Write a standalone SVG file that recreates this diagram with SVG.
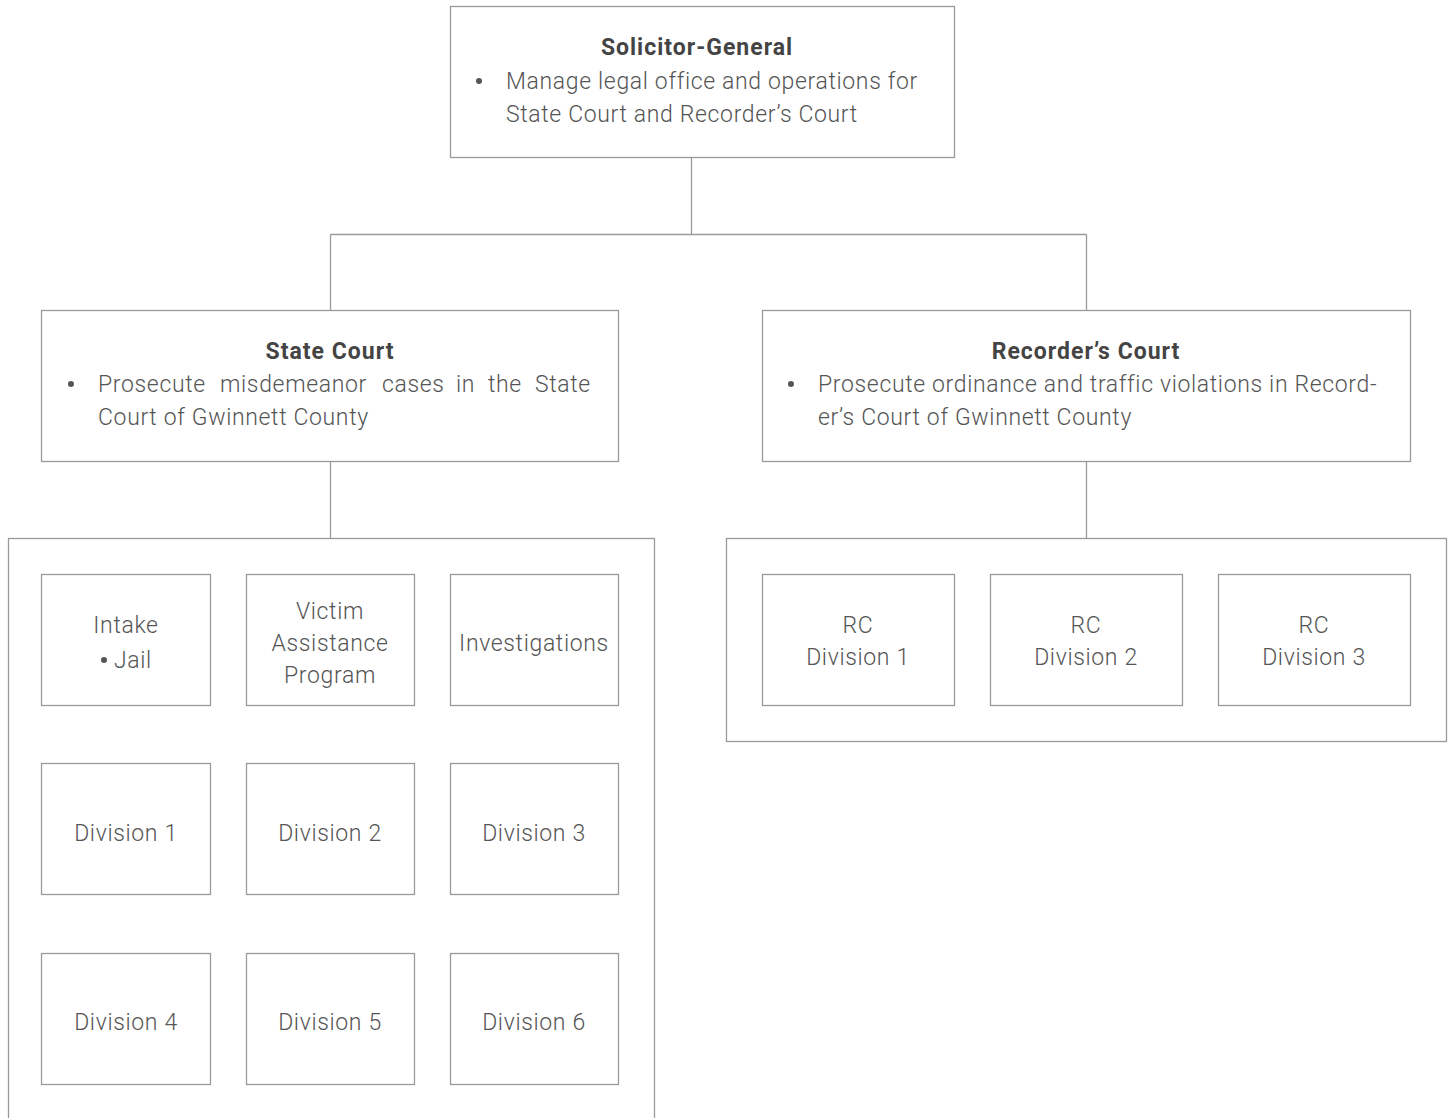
<svg xmlns="http://www.w3.org/2000/svg" width="1452" height="1118" viewBox="0 0 1452 1118">
  <style>
    .box { fill: #ffffff; stroke: #9a9a9a; stroke-width: 1.3; }
    .wire { fill: none; stroke: #9a9a9a; stroke-width: 1.3; }
    text { font-family: Roboto, "Liberation Sans", sans-serif; font-size: 23px; fill: #555555; font-weight: 300; letter-spacing: 0.65px; }
    .head { font-weight: 700; fill: #444444; letter-spacing: 1px; }
    .c { text-anchor: middle; }
    .dot { fill: #555555; }
  </style>
  <rect x="0" y="0" width="1452" height="1118" fill="#ffffff"/>

  <!-- connectors -->
  <g id="connectors">
    <path class="wire" d="M691.5 158 V234.5 M330.5 234.5 H1086.5 M330.5 234.5 V310 M1086.5 234.5 V310"/>
    <path class="wire" d="M330.5 462 V538"/>
    <path class="wire" d="M1086.5 462 V538"/>
  </g>

  <!-- group frames -->
  <g id="state-court-units">
    <rect class="box" x="8.5" y="538.5" width="646" height="600"/>
  </g>
  <g id="recorders-court-units">
    <rect class="box" x="726.5" y="538.5" width="720" height="203"/>
  </g>

  <g id="solicitor-general">
    <rect class="box" x="450.5" y="6.5" width="504" height="151"/>
    <text class="head c" x="697" y="55">Solicitor-General</text>
    <circle class="dot" cx="479" cy="81" r="3"/>
    <text x="506" y="89">Manage legal office and operations for</text>
    <text x="506" y="122">State Court and Recorder’s Court</text>
  </g>

  <g id="state-court">
    <rect class="box" x="41.5" y="310.5" width="577" height="151"/>
    <text class="head c" x="330" y="359">State Court</text>
    <circle class="dot" cx="71" cy="384" r="3"/>
    <!-- justified line: each word placed on its own -->
    <text y="392"><tspan x="98">Prosecute</tspan><tspan x="220">misdemeanor</tspan><tspan x="382">cases</tspan><tspan x="456">in</tspan><tspan x="488">the</tspan><tspan x="535">State</tspan></text>
    <text x="98" y="425">Court of Gwinnett County</text>
  </g>

  <g id="recorders-court">
    <rect class="box" x="762.5" y="310.5" width="648" height="151"/>
    <text class="head c" x="1086" y="359">Recorder’s Court</text>
    <circle class="dot" cx="791" cy="384" r="3"/>
    <text x="818" y="392">Prosecute ordinance and traffic violations in Record-</text>
    <text x="818" y="425">er’s Court of Gwinnett County</text>
  </g>

  <g id="intake">
    <rect class="box" x="41.5" y="574.5" width="169" height="131"/>
    <text class="c" x="126" y="633">Intake</text>
    <circle class="dot" cx="104" cy="660" r="3"/>
    <text x="114" y="668">Jail</text>
  </g>
  <g id="victim-assistance">
    <rect class="box" x="246.5" y="574.5" width="168" height="131"/>
    <text class="c" x="330" y="619">Victim</text>
    <text class="c" x="330" y="651">Assistance</text>
    <text class="c" x="330" y="683">Program</text>
  </g>
  <g id="investigations">
    <rect class="box" x="450.5" y="574.5" width="168" height="131"/>
    <text class="c" x="534" y="651">Investigations</text>
  </g>

  <g id="division-1">
    <rect class="box" x="41.5" y="763.5" width="169" height="131"/>
    <text class="c" x="126" y="841">Division 1</text>
  </g>
  <g id="division-2">
    <rect class="box" x="246.5" y="763.5" width="168" height="131"/>
    <text class="c" x="330" y="841">Division 2</text>
  </g>
  <g id="division-3">
    <rect class="box" x="450.5" y="763.5" width="168" height="131"/>
    <text class="c" x="534" y="841">Division 3</text>
  </g>

  <g id="division-4">
    <rect class="box" x="41.5" y="953.5" width="169" height="131"/>
    <text class="c" x="126" y="1030">Division 4</text>
  </g>
  <g id="division-5">
    <rect class="box" x="246.5" y="953.5" width="168" height="131"/>
    <text class="c" x="330" y="1030">Division 5</text>
  </g>
  <g id="division-6">
    <rect class="box" x="450.5" y="953.5" width="168" height="131"/>
    <text class="c" x="534" y="1030">Division 6</text>
  </g>

  <g id="rc-division-1">
    <rect class="box" x="762.5" y="574.5" width="192" height="131"/>
    <text class="c" x="858" y="633">RC</text>
    <text class="c" x="858" y="665">Division 1</text>
  </g>
  <g id="rc-division-2">
    <rect class="box" x="990.5" y="574.5" width="192" height="131"/>
    <text class="c" x="1086" y="633">RC</text>
    <text class="c" x="1086" y="665">Division 2</text>
  </g>
  <g id="rc-division-3">
    <rect class="box" x="1218.5" y="574.5" width="192" height="131"/>
    <text class="c" x="1314" y="633">RC</text>
    <text class="c" x="1314" y="665">Division 3</text>
  </g>
</svg>
